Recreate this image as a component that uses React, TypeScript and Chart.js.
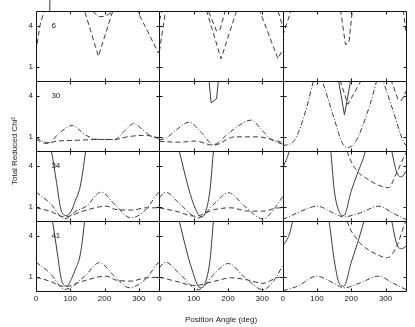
import { useEffect, useRef } from 'react';
import { Chart, registerables } from 'chart.js';

Chart.register(...registerables);

type Pt = [number, number];

// Axis ticks and panel labels
const X_TICKS = [0, 100, 200, 300];
const Y_TICKS = [1, 4];
const PANEL_LABELS = ['6', '30', '34', '41'];
const X_TITLE = 'Position Angle (deg)';
const Y_TITLE = 'Total Reduced Chi²';

// Row 0 ("6")
const R0C0_DASH_A: Pt[] = [[0, 2.15], [12, 4.1], [24, 5.1], [40, 6.5], [125, 6.5], [142, 5.1], [182, 1.8], [224, 5.1], [240, 6.5], [280, 6.5], [296, 5.1], [357, 2.05], [360, 2.2]];
const R0C0_DASH_B: Pt[] = [[0, 6.5], [150, 6.5], [164, 5.1], [183, 4.68], [202, 4.72], [228, 5.1], [245, 6.5], [360, 6.5]];
const R0C0_SOLID: Pt[] = [[40, 5.1], [41, 6.2]];
const R0C1_DASH_A: Pt[] = [[0, 2.15], [18, 5.1], [30, 6.5], [125, 6.5], [138, 5.1], [180, 1.62], [225, 5.1], [240, 6.5], [280, 6.5], [293, 5.1], [346, 1.62], [360, 2.3]];
const R0C1_DASH_B: Pt[] = [[0, 4.4], [8, 5.1], [20, 6.5], [130, 6.5], [143, 5.1], [167, 3.63], [177, 3.75], [192, 5.1], [205, 6.5], [335, 6.5], [346, 5.1], [357, 4.2], [360, 4.4]];
const R0C2_DASH_A: Pt[] = [[0, 3.3], [24, 5.1], [40, 6.5], [155, 6.5], [169, 5.1], [183, 2.66], [193, 2.78], [203, 5.1], [215, 6.5], [340, 6.5], [352, 5.1], [360, 3.5]];

// Row 1 ("30")
const R1C0_DASHDOT: Pt[] = [[0, 0.96], [35, 0.6], [70, 1.35], [106, 1.86], [145, 1.15], [185, 0.84], [229, 0.84], [258, 1.45], [286, 2.0], [320, 1.35], [349, 0.96], [360, 1.0]];
const R1C0_DASH: Pt[] = [[0, 0.84], [31, 0.55], [60, 0.71], [120, 0.78], [185, 0.84], [229, 0.84], [270, 1.05], [310, 1.13], [349, 1.03], [360, 0.8]];
const R1C1_SOLID: Pt[] = [[0, 6.5], [138, 6.5], [145, 5.1], [151, 3.5], [167, 3.8], [172, 5.1], [180, 6.5], [360, 6.5]];
const R1C1_DASHDOT: Pt[] = [[0, 0.8], [20, 0.95], [50, 1.55], [87, 2.1], [122, 1.35], [158, 0.47], [200, 1.25], [238, 1.95], [268, 2.25], [300, 1.5], [326, 0.84], [360, 0.5]];
const R1C1_DASH: Pt[] = [[0, 0.71], [56, 0.64], [105, 0.72], [158, 0.42], [220, 1.03], [287, 1.03], [346, 0.71], [360, 0.6]];
const R1C2_DASHDOT: Pt[] = [[0, 0.38], [33, 0.74], [67, 2.93], [90, 5.1], [102, 5.8], [115, 5.1], [149, 2.44], [173, 0.62], [187, 0.26], [211, 0.62], [255, 3.41], [274, 5.1], [283, 5.8], [293, 5.1], [322, 2.93], [351, 0.74], [360, 0.38]];
const R1C2_SOLID: Pt[] = [[0, 6.5], [150, 6.5], [163, 5.1], [180, 2.64], [198, 5.1], [210, 6.5], [360, 6.5]];
const R1C2_DASH: Pt[] = [[0, 6.5], [155, 6.5], [168, 5.1], [190, 3.4], [228, 5.1], [240, 6.5], [305, 6.5], [317, 5.1], [336, 3.78], [346, 3.66], [360, 4.37]];

// Row 2 ("34")
const R2C0_SOLID: Pt[] = [[0, 6.5], [32, 6.5], [45, 5.1], [60, 2.8], [74, 0.72], [89, 0.4], [103, 0.72], [115, 1.5], [127, 2.3], [136, 3.5], [145, 5.1], [158, 6.5], [360, 6.5]];
const R2C0_DASHDOT: Pt[] = [[0, 2.1], [40, 1.33], [84, 0.16], [117, 0.72], [147, 1.08], [190, 2.1], [234, 1.08], [277, 0.23], [321, 0.84], [357, 2.06], [360, 2.1]];
const R2C0_DASH: Pt[] = [[0, 0.96], [40, 0.72], [84, 0.3], [137, 0.72], [205, 1.08], [233, 0.84], [282, 0.8], [320, 0.96], [360, 0.96]];
const R2C1_SOLID: Pt[] = [[0, 6.5], [45, 6.5], [58, 5.1], [95, 1.57], [114, 0.47], [122, 0.3], [134, 0.6], [148, 2.3], [158, 5.1], [168, 6.5], [360, 6.5]];
const R2C1_DASHDOT: Pt[] = [[0, 1.7], [18, 2.1], [56, 1.33], [114, 0.23], [163, 1.33], [201, 2.06], [249, 1.08], [302, 0.16], [341, 1.08], [360, 1.8]];
const R2C1_DASH: Pt[] = [[0, 0.96], [47, 0.72], [104, 0.35], [162, 0.84], [210, 0.96], [258, 0.72], [302, 0.72], [350, 0.96], [360, 0.96]];
const R2C2_SOLID: Pt[] = [[0, 3.88], [19, 5.1], [30, 6.5], [128, 6.5], [140, 5.1], [150, 2.3], [164, 0.71], [178, 0.4], [200, 2.2], [217, 3.4], [241, 5.1], [252, 6.5], [306, 6.5], [318, 5.1], [333, 3.51], [347, 3.22], [360, 3.63]];
const R2C2_DASH: Pt[] = [[0, 6.5], [176, 6.5], [188, 5.1], [217, 3.63], [241, 3.15], [275, 2.66], [309, 2.42], [328, 3.27], [357, 4.85], [360, 5.0]];
const R2C2_DASHDOT: Pt[] = [[0, 0.11], [43, 0.6], [101, 1.08], [150, 0.55], [178, 0.3], [227, 0.6], [280, 1.08], [323, 0.55], [360, 0.1]];

// Row 3 ("41")
const R3C0_SOLID: Pt[] = [[0, 6.5], [35, 6.5], [48, 5.1], [62, 2.8], [74, 0.84], [89, 0.36], [103, 0.84], [115, 1.6], [127, 2.4], [135, 3.6], [142, 5.1], [155, 6.5], [360, 6.5]];
const R3C0_DASHDOT: Pt[] = [[0, 2.1], [40, 1.33], [84, 0.12], [142, 1.08], [185, 2.06], [229, 1.08], [272, 0.24], [321, 0.9], [357, 2.06], [360, 2.1]];
const R3C0_DASH: Pt[] = [[0, 1.0], [40, 0.72], [84, 0.32], [137, 0.72], [204, 1.08], [233, 0.8], [277, 0.72], [320, 0.96], [360, 1.0]];
const R3C1_SOLID: Pt[] = [[0, 6.5], [45, 6.5], [58, 5.1], [95, 1.57], [119, 0.24], [134, 0.6], [148, 2.3], [158, 5.1], [168, 6.5], [360, 6.5]];
const R3C1_DASHDOT: Pt[] = [[0, 1.7], [18, 2.1], [56, 1.33], [114, 0.1], [163, 1.33], [201, 2.0], [249, 1.0], [302, 0.1], [341, 1.0], [360, 1.9]];
const R3C1_DASH: Pt[] = [[0, 1.0], [47, 0.72], [104, 0.4], [162, 0.72], [210, 0.96], [258, 0.8], [302, 0.56], [350, 1.0], [360, 1.0]];
const R3C2_SOLID: Pt[] = [[0, 3.27], [19, 4.12], [29, 5.1], [40, 6.5], [123, 6.5], [135, 5.1], [150, 2.3], [164, 0.6], [178, 0.35], [200, 2.1], [217, 3.4], [237, 5.1], [250, 6.5], [306, 6.5], [318, 5.1], [333, 3.39], [347, 3.08], [360, 3.27]];
const R3C2_DASH: Pt[] = [[0, 6.5], [176, 6.5], [188, 5.1], [217, 3.75], [241, 3.15], [275, 2.66], [304, 2.42], [333, 3.27], [357, 4.97], [360, 5.1]];
const R3C2_DASHDOT: Pt[] = [[0, 0.02], [43, 0.35], [99, 1.08], [150, 0.55], [178, 0.23], [227, 0.6], [280, 1.08], [323, 0.55], [360, 0.1]];

type Style = 'solid' | 'dash' | 'dashdot';
interface Series { row: number; col: number; style: Style; pts: Pt[]; smooth: boolean; noClip?: boolean }

const SERIES: Series[] = [
  { row: 0, col: 0, style: 'dash', pts: R0C0_DASH_A, smooth: false },
  { row: 0, col: 0, style: 'dash', pts: R0C0_DASH_B, smooth: false },
  { row: 0, col: 0, style: 'solid', pts: R0C0_SOLID, smooth: false, noClip: true },
  { row: 0, col: 1, style: 'dash', pts: R0C1_DASH_A, smooth: false },
  { row: 0, col: 1, style: 'dash', pts: R0C1_DASH_B, smooth: false },
  { row: 0, col: 2, style: 'dash', pts: R0C2_DASH_A, smooth: false },
  { row: 1, col: 0, style: 'dashdot', pts: R1C0_DASHDOT, smooth: true },
  { row: 1, col: 0, style: 'dash', pts: R1C0_DASH, smooth: true },
  { row: 1, col: 1, style: 'solid', pts: R1C1_SOLID, smooth: false },
  { row: 1, col: 1, style: 'dashdot', pts: R1C1_DASHDOT, smooth: true },
  { row: 1, col: 1, style: 'dash', pts: R1C1_DASH, smooth: true },
  { row: 1, col: 2, style: 'dashdot', pts: R1C2_DASHDOT, smooth: true },
  { row: 1, col: 2, style: 'solid', pts: R1C2_SOLID, smooth: false },
  { row: 1, col: 2, style: 'dash', pts: R1C2_DASH, smooth: false },
  { row: 2, col: 0, style: 'solid', pts: R2C0_SOLID, smooth: true },
  { row: 2, col: 0, style: 'dashdot', pts: R2C0_DASHDOT, smooth: true },
  { row: 2, col: 0, style: 'dash', pts: R2C0_DASH, smooth: true },
  { row: 2, col: 1, style: 'solid', pts: R2C1_SOLID, smooth: true },
  { row: 2, col: 1, style: 'dashdot', pts: R2C1_DASHDOT, smooth: true },
  { row: 2, col: 1, style: 'dash', pts: R2C1_DASH, smooth: true },
  { row: 2, col: 2, style: 'solid', pts: R2C2_SOLID, smooth: true },
  { row: 2, col: 2, style: 'dash', pts: R2C2_DASH, smooth: true },
  { row: 2, col: 2, style: 'dashdot', pts: R2C2_DASHDOT, smooth: true },
  { row: 3, col: 0, style: 'solid', pts: R3C0_SOLID, smooth: true },
  { row: 3, col: 0, style: 'dashdot', pts: R3C0_DASHDOT, smooth: true },
  { row: 3, col: 0, style: 'dash', pts: R3C0_DASH, smooth: true },
  { row: 3, col: 1, style: 'solid', pts: R3C1_SOLID, smooth: true },
  { row: 3, col: 1, style: 'dashdot', pts: R3C1_DASHDOT, smooth: true },
  { row: 3, col: 1, style: 'dash', pts: R3C1_DASH, smooth: true },
  { row: 3, col: 2, style: 'solid', pts: R3C2_SOLID, smooth: true },
  { row: 3, col: 2, style: 'dash', pts: R3C2_DASH, smooth: true },
  { row: 3, col: 2, style: 'dashdot', pts: R3C2_DASHDOT, smooth: true },
];

const ROWS = 4;
const COLS = 3;
const FONT_FAMILY = "'Liberation Sans', Arial, Helvetica, sans-serif";
const TEXT_COLOR = '#1a1a1a';
const LINE_COLOR = '#3a3a3a';
const DASHES: Record<Style, number[]> = { solid: [], dash: [5, 3], dashdot: [5, 2, 1, 2] };

const framePlugin = {
  id: 'panelFrames',
  afterDatasetsDraw(chart: any) {
    const ctx = chart.ctx;
    ctx.save();
    ctx.strokeStyle = '#111';
    ctx.lineWidth = 1;
    const crisp = (v: number) => Math.round(v) + 0.5;
    for (let r = 0; r < ROWS; r++) {
      const ys = chart.scales['y' + r];
      const top = crisp(ys.top);
      const bottom = crisp(ys.bottom);
      for (let c = 0; c < COLS; c++) {
        const xs = chart.scales['x' + c];
        const left = crisp(xs.left);
        const right = crisp(xs.right);
        ctx.beginPath();
        ctx.rect(left, top, right - left, bottom - top);
        for (const v of X_TICKS) {
          if (v === 0) continue;
          const px = crisp(xs.getPixelForValue(v));
          ctx.moveTo(px, top);
          ctx.lineTo(px, top + 3);
          ctx.moveTo(px, bottom);
          ctx.lineTo(px, bottom - 3);
        }
        for (const v of Y_TICKS) {
          const py = crisp(ys.getPixelForValue(v));
          ctx.moveTo(left, py);
          ctx.lineTo(left + 3, py);
          ctx.moveTo(right, py);
          ctx.lineTo(right - 3, py);
        }
        ctx.stroke();
      }
      const x0 = chart.scales.x0;
      ctx.fillStyle = TEXT_COLOR;
      ctx.font = `8px ${FONT_FAMILY}`;
      ctx.textAlign = 'left';
      ctx.textBaseline = 'middle';
      ctx.fillText(PANEL_LABELS[r], x0.getPixelForValue(45), ys.getPixelForValue(4));
    }
    ctx.restore();
  },
};

export default function App() {
  const ref = useRef<HTMLCanvasElement | null>(null);
  useEffect(() => {
    if (!ref.current) return;
    const font = { family: FONT_FAMILY, size: 8 };
    const scales: any = {};
    for (let c = 0; c < COLS; c++) {
      scales['x' + c] = {
        type: 'linear',
        position: 'bottom',
        stack: 'cols',
        min: 0,
        max: 360,
        grid: { display: false, drawTicks: false },
        border: { display: false },
        afterBuildTicks: (s: any) => { s.ticks = X_TICKS.map((v) => ({ value: v })); },
        afterFit: (s: any) => { s.height = 36; },
        ticks: { autoSkip: false, maxRotation: 0, font, color: TEXT_COLOR, padding: 3 },
        title: c === 1
          ? { display: true, text: X_TITLE, font, color: TEXT_COLOR, padding: { top: 0, bottom: 2 } }
          : { display: false },
      };
    }
    for (let r = 0; r < ROWS; r++) {
      scales['y' + r] = {
        type: 'linear',
        position: 'left',
        stack: 'rows',
        weight: ROWS - r,
        min: 0,
        max: 5.1,
        grid: { display: false, drawTicks: false },
        border: { display: false },
        afterBuildTicks: (s: any) => { s.ticks = Y_TICKS.map((v) => ({ value: v })); },
        afterFit: (s: any) => { s.width = 20; },
        ticks: { font, color: TEXT_COLOR, padding: 3 },
      };
    }
    scales.yTitle = {
      type: 'linear',
      axis: 'y',
      position: 'left',
      weight: 10,
      grid: { display: false, drawTicks: false },
      border: { display: false },
      ticks: { display: false },
      afterFit: (s: any) => { s.width = 16; },
      title: { display: true, text: Y_TITLE, font, color: TEXT_COLOR, padding: { top: 10, bottom: 0 } },
    };
    const datasets = SERIES.map((s) => ({
      data: s.pts.map(([x, y]) => ({ x, y })),
      xAxisID: 'x' + s.col,
      yAxisID: 'y' + s.row,
      borderColor: LINE_COLOR,
      borderWidth: 1,
      borderDash: DASHES[s.style],
      pointRadius: 0,
      fill: false,
      tension: 0,
      cubicInterpolationMode: s.smooth ? 'monotone' : 'default',
      ...(s.noClip ? { clip: false } : {}),
    }));
    const chart = new Chart(ref.current, {
      type: 'line',
      data: { datasets } as any,
      options: {
        animation: false,
        responsive: false,
        devicePixelRatio: 1,
        parsing: true,
        layout: { padding: { top: 11, right: 6, left: 0, bottom: 0 } },
        plugins: { legend: { display: false }, tooltip: { enabled: false } },
        scales,
      } as any,
      plugins: [framePlugin],
    });
    return () => chart.destroy();
  }, []);
  return (
    <div style={{ position: 'absolute', left: 0, top: 0, width: 415, height: 327, background: '#fff' }}>
      <canvas ref={ref} width={415} height={327} style={{ display: 'block' }} />
    </div>
  );
}
